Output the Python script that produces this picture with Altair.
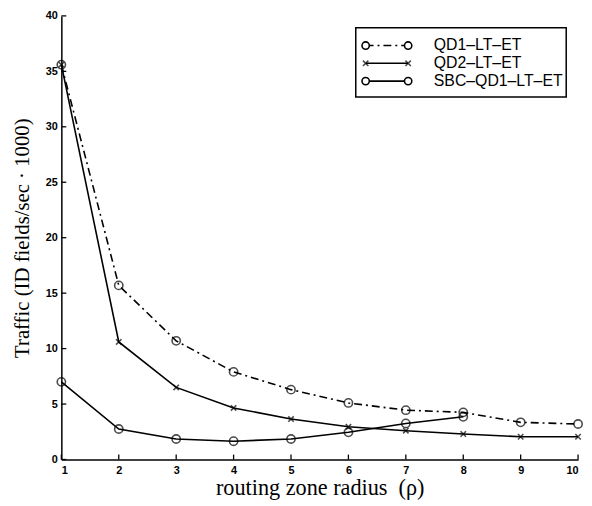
import altair as alt
import pandas as pd

rho = [1, 2, 3, 4, 5, 6, 7, 8, 9, 10]
qd1 = [35.6, 15.7, 10.7, 7.9, 6.3, 5.1, 4.45, 4.25, 3.35, 3.2]
qd2 = [35.6, 10.6, 6.5, 4.65, 3.65, 2.95, 2.6, 2.3, 2.05, 2.05]
sbc_rho = [1, 2, 3, 4, 5, 6, 7, 8]
sbc = [7.0, 2.75, 1.85, 1.65, 1.85, 2.45, 3.25, 3.85]
series = ["QD1–LT–ET", "QD2–LT–ET", "SBC–QD1–LT–ET"]
x_ticks = [1, 2, 3, 4, 5, 6, 7, 8, 9, 10]
y_ticks = [0, 5, 10, 15, 20, 25, 30, 35, 40]

W, H = 523, 449
DASHDOT = [8, 4, 2, 4]
XPATH = "M-1,-1L1,1M-1,1L1,-1"

df1 = pd.DataFrame({"x": rho, "y": qd1, "s": series[0]})
df2 = pd.DataFrame({"x": rho, "y": qd2, "s": series[1]})
df3 = pd.DataFrame({"x": sbc_rho, "y": sbc, "s": series[2]})

xs = alt.Scale(domain=[1, 10], nice=False)
ys = alt.Scale(domain=[0, 40], nice=False)

X = alt.X("x:Q", scale=xs, title="routing zone radius\u00a0\u00a0(ρ)",
          axis=alt.Axis(values=x_ticks, format="d", ticks=False, labelPadding=5,
                        titlePadding=1, titleFontSize=22.5))
Y = alt.Y("y:Q", scale=ys, title="Traffic (ID fields/sec · 1000)",
          axis=alt.Axis(values=y_ticks, ticks=False, labelPadding=4,
                        titlePadding=13, titleFontSize=21))

l1 = alt.Chart(df1).mark_line(color="black", strokeWidth=1.6, strokeDash=DASHDOT).encode(x=X, y=Y)
p1 = alt.Chart(df1).mark_point(shape="circle", color="black", filled=False, size=70, strokeWidth=1.6).encode(x="x:Q", y="y:Q")
l2 = alt.Chart(df2).mark_line(color="black", strokeWidth=1.6).encode(x="x:Q", y="y:Q")
p2 = alt.Chart(df2).mark_point(shape=XPATH, color="black", filled=False, size=30, strokeWidth=1.6).encode(x="x:Q", y="y:Q")
l3 = alt.Chart(df3).mark_line(color="black", strokeWidth=1.6).encode(x="x:Q", y="y:Q")
p3 = alt.Chart(df3).mark_point(shape="circle", color="black", filled=False, size=70, strokeWidth=1.6).encode(x="x:Q", y="y:Q")

# inward ticks
ytk = alt.Chart(pd.DataFrame({"y": y_ticks})).mark_rule(color="black", strokeWidth=1.3).encode(
    y="y:Q", x=alt.value(0), x2=alt.value(5))
xtk = alt.Chart(pd.DataFrame({"x": x_ticks})).mark_rule(color="black", strokeWidth=1.3).encode(
    x="x:Q", y=alt.value(H), y2=alt.value(H - 5))

# legend
leg_df = pd.DataFrame({"s": [series[0]]})
box = alt.Chart(leg_df).mark_rect(fill="white", stroke="black", strokeWidth=1.5).encode(
    x=alt.value(298), x2=alt.value(511), y=alt.value(12), y2=alt.value(82))
legend_layers = [box]
rows = [30, 48, 66]
for i, name in enumerate(series):
    d = pd.DataFrame({"s": [name]})
    dash = DASHDOT if i == 0 else [1, 0]
    legend_layers.append(alt.Chart(d).mark_rule(color="black", strokeWidth=1.6, strokeDash=dash).encode(
        x=alt.value(308), x2=alt.value(351), y=alt.value(rows[i])))
    for px in (308, 351):
        if i == 1:
            m = alt.Chart(d).mark_point(shape=XPATH, color="black", filled=False, size=30, strokeWidth=1.6)
        else:
            m = alt.Chart(d).mark_point(shape="circle", stroke="black", fill="white", fillOpacity=1,
                                        size=55, strokeWidth=1.6)
        legend_layers.append(m.encode(x=alt.value(px), y=alt.value(rows[i])))
    legend_layers.append(alt.Chart(d).mark_text(align="left", baseline="middle", font="Liberation Sans",
                                                fontSize=16, color="black").encode(
        x=alt.value(377), y=alt.value(rows[i]), text="s:N"))

chart = alt.layer(l1, l2, l3, p1, p2, p3, ytk, xtk, *legend_layers).properties(
    width=W, height=H,
    autosize=alt.AutoSizeParams(type="none"),
    padding={"left": 54, "top": 5, "right": 6, "bottom": 38},
).configure_view(stroke=None).configure_axis(
    grid=False, domainColor="black", domainWidth=1.5,
    labelFont="Liberation Sans", labelFontWeight="bold", labelFontSize=11, labelColor="black",
    titleFont="Liberation Serif", titleFontWeight="normal", titleColor="black",
)

chart.save("out.html", embed_options={"renderer": "svg", "actions": False})
